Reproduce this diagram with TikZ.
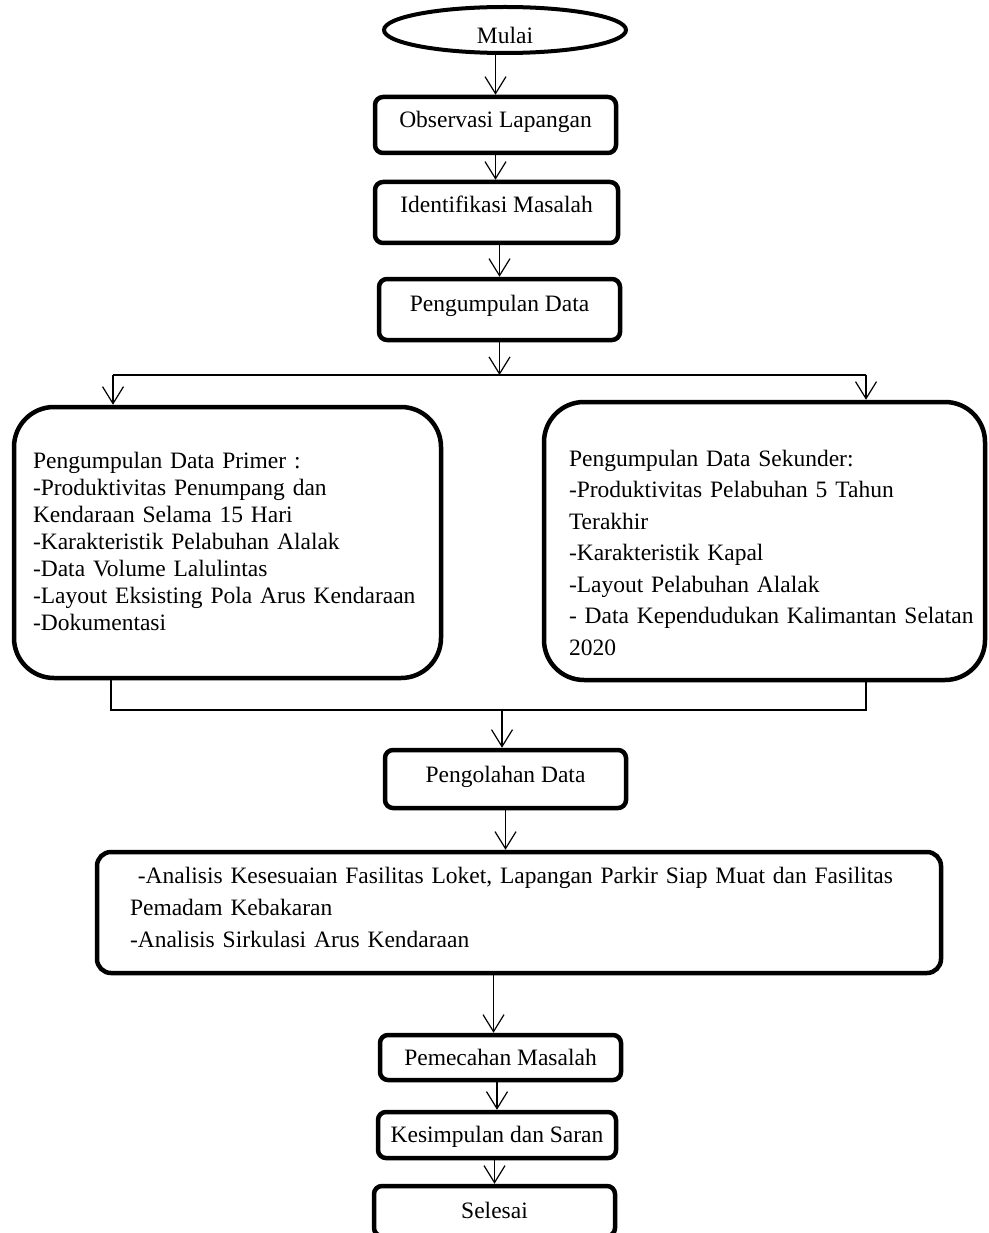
\documentclass[tikz,border=0pt]{standalone}
\usepackage{fontspec}
\setmainfont{Liberation Serif}
\usepackage{tikz}
\usetikzlibrary{positioning}
\usetikzlibrary{arrows.meta}
\usetikzlibrary{shapes.geometric}
\tikzset{%
  panah/.style = {-{Straight Barb[length=17pt,width=21pt]},line width=1.2pt},
  garis/.style = {line width=1.2pt},
  kotak/.style = {rectangle,draw,line width=4.5pt,rounded corners=8pt,
        inner sep=0pt,text height=16pt,minimum width=241pt,
        font=\fontsize{23.5pt}{27pt}\selectfont},
  elips/.style = {ellipse,draw,line width=4pt,inner sep=0pt,
        font=\fontsize{23.5pt}{27pt}\selectfont}
}

\begin{document}
\begin{tikzpicture}[x=1pt,y=-1pt]
    \useasboundingbox (0,0) rectangle (988,1233);
    \clip (0,0) rectangle (988,1233);

    \node[elips,minimum width=242pt,minimum height=46pt,
        text height=28pt,text depth=0.5pt] (mulai) at (505,30) {Mulai};
    \node[kotak,minimum height=56pt,text depth=10.5pt] (observasi)
        at (495.5,125) {Observasi Lapangan};
    \node[kotak,minimum width=243pt,minimum height=61pt,text depth=15.5pt]
        (identifikasi) at (496.5,212.5) {Identifikasi Masalah};
    \node[kotak,minimum height=61pt,text depth=11.5pt] (pengumpulan)
        at (499.5,309.5) {Pengumpulan Data};

    \node[kotak,rounded corners=40pt,minimum width=427pt,minimum height=271pt,
        text width=389pt,align=left,text height=14pt] (primer)
        at (227.5,542.5) {Pengumpulan Data Primer :\\
        -Produktivitas Penumpang dan\\
        Kendaraan Selama 15 Hari\\
        -Karakteristik Pelabuhan Alalak\\
        -Data Volume Lalulintas\\
        -Layout Eksisting Pola Arus Kendaraan\\
        -Dokumentasi};
    \node[kotak,rounded corners=40pt,minimum width=441pt,minimum height=278pt,
        text width=391pt,align=left,text height=39.5pt,
        font=\fontsize{23.5pt}{31.5pt}\selectfont] (sekunder)
        at (764.5,541) {Pengumpulan Data Sekunder:\\
        -Produktivitas Pelabuhan 5 Tahun\\
        Terakhir\\
        -Karakteristik Kapal\\
        -Layout Pelabuhan Alalak\\
        \mbox{- Data Kependudukan Kalimantan Selatan}\\
        2020};

    \node[kotak,minimum height=58pt,text depth=9.5pt] (pengolahan)
        at (505.5,779) {Pengolahan Data};
    \node[kotak,rounded corners=14pt,minimum width=844pt,minimum height=121pt,
        text width=778pt,align=left,text height=6.5pt,
        font=\fontsize{23.5pt}{32pt}\selectfont] (analisis)
        at (519,912.5) {\ -Analisis Kesesuaian Fasilitas Loket, Lapangan Parkir Siap Muat dan Fasilitas\\
        Pemadam Kebakaran\\
        -Analisis Sirkulasi Arus Kendaraan};

    \node[kotak,minimum height=45pt,text depth=0.5pt] (pemecahan)
        at (500.5,1057.5) {Pemecahan Masalah};
    \node[kotak,minimum width=238pt,minimum height=46pt,text depth=0.5pt]
        (kesimpulan) at (497,1135) {Kesimpulan dan Saran};
    \node[kotak,minimum height=50pt,text depth=0.5pt] (selesai)
        at (494.5,1211) {Selesai};

    \coordinate (cabang) at (497,375);
    \coordinate (cabangkiri) at (113,375);
    \coordinate (cabangkanan) at (866,375);
    \coordinate (gabungkiri) at (111,710);
    \coordinate (gabungkanan) at (866,710);
    \coordinate (gabung) at (502,710);

    \draw[panah] (observasi.north |- mulai.south) -- (observasi.north);
    \draw[panah] (observasi.south) -- (observasi.south |- identifikasi.north);
    \draw[panah] (pengumpulan.north |- identifikasi.south) -- (pengumpulan.north);
    \draw[panah] (pengumpulan.south) -- (pengumpulan.south |- cabang);
    \draw[garis] (cabangkiri) -- (cabangkanan);
    \draw[panah] (cabangkiri) -- (cabangkiri |- primer.north);
    \draw[panah] (cabangkanan) -- (cabangkanan |- sekunder.north);
    \draw[garis] (gabungkiri |- primer.south) -- (gabungkiri) -- (gabungkanan)
        -- (gabungkanan |- sekunder.south);
    \draw[panah] (gabung) -- (gabung |- pengolahan.north);
    \draw[panah] (pengolahan.south) -- (pengolahan.south |- analisis.north);
    \draw[panah] ([xshift=-7pt]pemecahan.north |- analisis.south)
        -- ([xshift=-7pt]pemecahan.north);
    \draw[panah] (kesimpulan.north |- pemecahan.south) -- (kesimpulan.north);
    \draw[panah] (selesai.north |- kesimpulan.south) -- (selesai.north);
\end{tikzpicture}
\end{document}
